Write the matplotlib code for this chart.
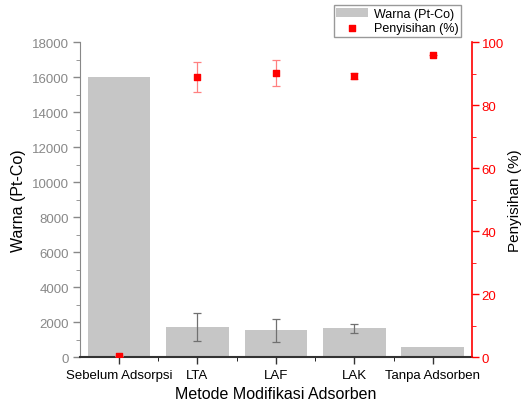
import numpy as np
import matplotlib.pyplot as plt
from matplotlib.ticker import MultipleLocator

plt.rcParams['font.family'] = ['Liberation Sans', 'DejaVu Sans']

# data
methods = ["Sebelum Adsorpsi", "LTA", "LAF", "LAK", "Tanpa Adsorben"]
warna = [16000, 1700, 1530, 1660, 600]
warna_err = [0, 800, 650, 260, 0]
penyisihan = [0.3, 89.0, 90.1, 89.2, 95.8]
penyisihan_err = [0, 4.8, 4.2, 1.0, 0]

fig = plt.figure(figsize=(5.25, 4.14), dpi=100)
ax = fig.add_axes([0.152, 0.135, 0.747, 0.761])
x = np.arange(len(methods))

# bars
bars = ax.bar(x, warna, width=0.8, color="#c6c6c6", label="Warna (Pt-Co)", zorder=2)
ax.errorbar(x[1:4], warna[1:4], yerr=warna_err[1:4], fmt="none", ecolor="#707070",
            elinewidth=0.9, capsize=3, capthick=0.9, zorder=3)

ax.set_xlim(-0.5, 4.5)
ax.set_ylim(0, 18000)
ax.set_xticks(x)
ax.set_xticklabels(methods, fontsize=9.5)
ax.set_xticks(x[:-1] + 0.5, minor=True)
ax.yaxis.set_major_locator(MultipleLocator(2000))
ax.yaxis.set_minor_locator(MultipleLocator(1000))
ax.tick_params(axis="y", colors="#888888", labelsize=9.5, length=5, width=1, pad=3)
ax.tick_params(axis="y", which="minor", colors="#888888", length=3)
ax.tick_params(axis="x", colors="#333333", labelcolor="black", length=5, width=1)
ax.tick_params(axis="x", which="minor", length=3)
ax.spines["top"].set_visible(False)
ax.spines["right"].set_visible(False)
ax.spines["left"].set_color("#888888")
ax.spines["bottom"].set_color("#333333")
ax.spines["bottom"].set_linewidth(1.5)
ax.set_ylabel("Warna (Pt-Co)", fontsize=11.5, labelpad=4)
ax.set_xlabel("Metode Modifikasi Adsorben", fontsize=11.5)

# right axis
ax2 = ax.twinx()
ax2.errorbar(x, penyisihan, yerr=penyisihan_err, fmt="none", ecolor="#ff8080",
             elinewidth=0.9, capsize=3, capthick=0.9, zorder=3)
pts = ax2.scatter(x, penyisihan, marker="s", s=24, color="red", label="Penyisihan (%)", zorder=4)
ax2.set_ylim(0, 100)
ax2.yaxis.set_major_locator(MultipleLocator(20))
ax2.yaxis.set_minor_locator(MultipleLocator(10))
ax2.tick_params(axis="y", colors="red", labelsize=9.5, length=5, width=1, pad=2)
ax2.tick_params(axis="y", which="minor", colors="red", length=3)
for s in ["top", "left", "bottom"]:
    ax2.spines[s].set_visible(False)
ax2.spines["right"].set_color("red")
ax2.spines["right"].set_linewidth(1.2)
ax2.set_ylabel("Penyisihan (%)", fontsize=11, color="black", labelpad=3)

fig.legend(handles=[bars, pts], labels=["Warna (Pt-Co)", "Penyisihan (%)"],
           loc="upper right", bbox_to_anchor=(0.878, 0.985), fontsize=9,
           frameon=True, fancybox=False, edgecolor="#999999", framealpha=1,
           borderpad=0.2, handlelength=2.5, handletextpad=0.5, labelspacing=0.2,
           borderaxespad=0)

fig.savefig("out.png", dpi=100)
